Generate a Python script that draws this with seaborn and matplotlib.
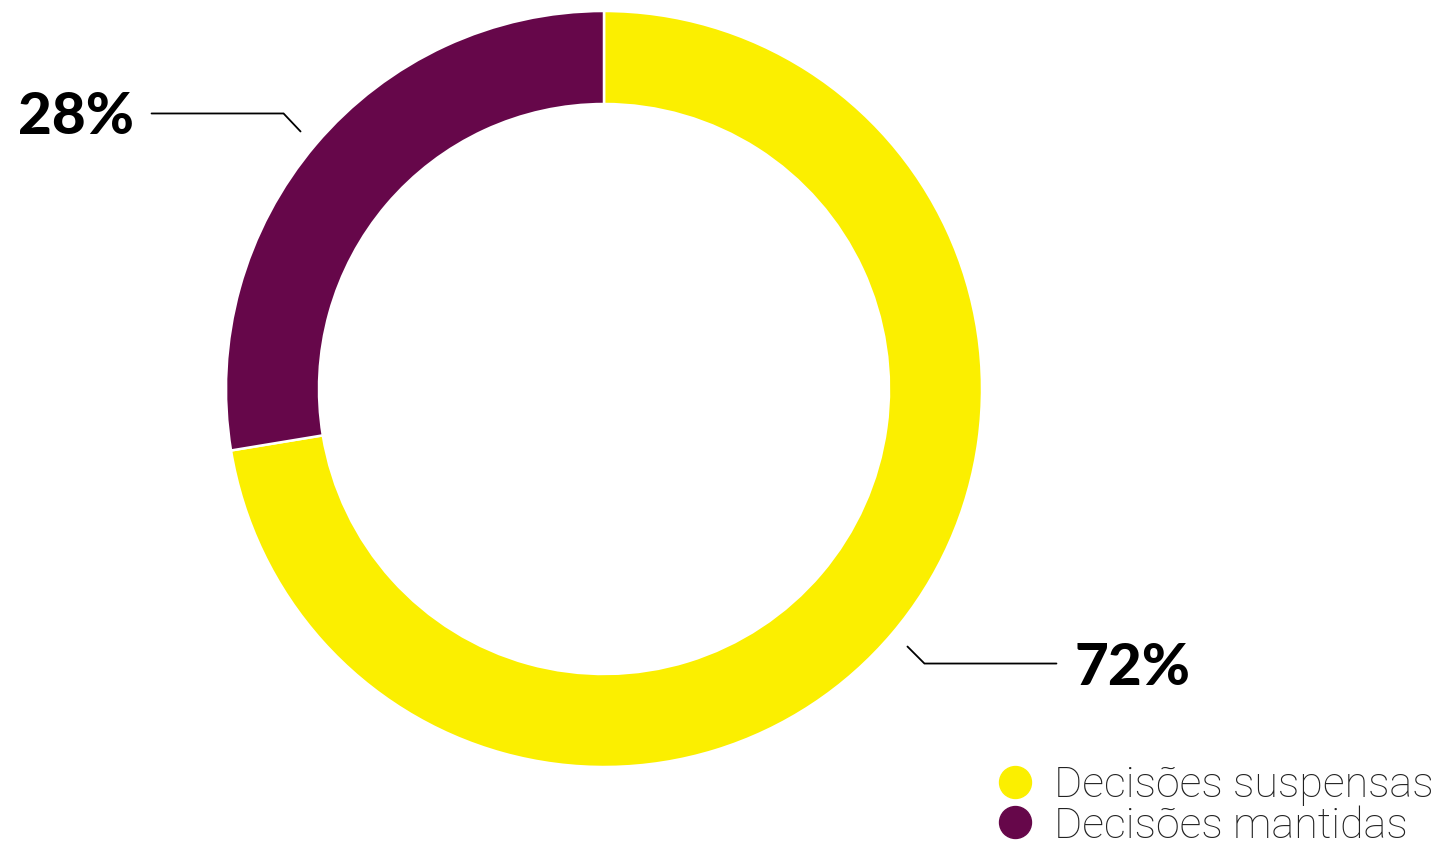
import numpy as np
import matplotlib
matplotlib.use("Agg")
import matplotlib.pyplot as plt
import seaborn as sns
from matplotlib.lines import Line2D

categories = ["Decisões suspensas", "Decisões mantidas"]
values = [72.4, 27.6]
colors = ["#FBEF00", "#66074A"]

sns.set_theme(style="white")
plt.rcParams['font.family'] = ['Lato', 'DejaVu Sans']

W, H = 1438, 847
fig = plt.figure(figsize=(W / 100, H / 100), dpi=100)
ax = fig.add_axes([0, 0, 1, 1])

cx, cy = 604, H - 389
R, r_in = 378, 285
wedges, _ = ax.pie(values, colors=colors, startangle=90, counterclock=False,
                   center=(cx, cy), radius=R, frame=True,
                   wedgeprops=dict(width=R - r_in, edgecolor='white', linewidth=1.8))
ax.set_xlim(0, W)
ax.set_ylim(0, H)
ax.set_aspect('equal')
ax.axis('off')

total = sum(values)
for w, v in zip(wedges, values):
    ang = np.deg2rad((w.theta1 + w.theta2) / 2)
    x0 = cx + 398 * np.cos(ang)
    y0 = cy + 398 * np.sin(ang)
    side = 1 if np.cos(ang) > 0 else -1
    x1 = x0 + side * 17
    y1 = y0 + (18 if np.sin(ang) > 0 else -17)
    x2 = x1 + side * 132
    ax.plot([x0, x1, x2], [y0, y1, y1], color='black', lw=1.3,
            solid_joinstyle='miter')
    ax.text(x2 + side * 18, y1 - 4.5, f"{round(100 * v / total)}%",
            ha='left' if side > 0 else 'right', va='center',
            fontsize=42, fontweight='black', color='black')

handles = [Line2D([], [], marker='o', linestyle='', markersize=23,
                  markerfacecolor=c, markeredgecolor=c) for c in colors]
leg = ax.legend(handles, categories, loc='lower right',
                bbox_to_anchor=(1434 / W, 0.5 / H), bbox_transform=fig.transFigure,
                frameon=False, fontsize=31, handlelength=0.8,
                handletextpad=0.52, labelspacing=-0.02, borderpad=0.0,
                borderaxespad=0.0)
for t in leg.get_texts():
    t.set_family(['Roboto', 'Lato', 'DejaVu Sans'])
    t.set_fontweight('light')
    t.set_color('#222222')

fig.savefig("out.png", dpi=100, facecolor='white')
